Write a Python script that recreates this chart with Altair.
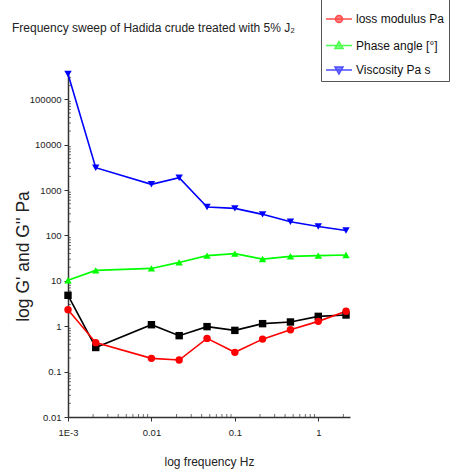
import altair as alt
import pandas as pd

# ---- data ----
freq = [0.001, 0.00215, 0.01, 0.0215, 0.0464, 0.1, 0.215, 0.464, 1.0, 2.15]
storage_modulus = [4.8, 0.34, 1.08, 0.62, 0.98, 0.81, 1.14, 1.24, 1.65, 1.77]
loss_modulus = [2.32, 0.435, 0.196, 0.18, 0.54, 0.266, 0.52, 0.84, 1.28, 2.13]
phase_angle = [10.3, 17.0, 18.8, 25.5, 35.9, 39.8, 30.2, 34.7, 35.9, 37.0]
viscosity = [360000, 3110, 1340, 1875, 423, 396, 292, 201, 158, 129]

series_names = ["storage modulus Pa", "loss modulus Pa", "Phase angle [\u00b0]", "Viscosity Pa s"]
series_colors = ["#000000", "#ff0000", "#00ff00", "#0000ff"]
series_shapes = ["square", "circle", "triangle-up", "triangle-down"]
legend_names = series_names[1:]
legend_colors = series_colors[1:]

x_tick_values = [0.001, 0.01, 0.1, 1]
x_tick_labels = ["1E-3", "0.01", "0.1", "1"]
y_tick_values = [0.01, 0.1, 1, 10, 100, 1000, 10000, 100000]
y_tick_labels = ["0.01", "0.1", "1", "10", "100", "1000", "10000", "100000"]
minor_mult = [2, 3, 4, 5, 6, 7, 8, 9]
x_minor = [m * d for d in [0.001, 0.01, 0.1, 1] for m in minor_mult if m * d < 2.4]
y_minor = [m * d for d in [0.01, 0.1, 1, 10, 100, 1000, 10000, 100000] for m in minor_mult if m * d < 4e5]

x_domain = [0.001, 2.4]
y_domain = [0.01, 4e5]

FONT = "Liberation Sans, Arial"

# legend symbols: line stub with marker in the middle
legend_paths = [
    "M-2.6,0H2.6M-0.7,0A0.7,0.7,0,1,1,0.7,0A0.7,0.7,0,1,1,-0.7,0Z",
    "M-2.6,0H2.6M0,-0.8L0.8,0.6L-0.8,0.6Z",
    "M-2.6,0H2.6M0,0.8L0.8,-0.6L-0.8,-0.6Z",
]

rows = []
for name, vals in zip(series_names, [storage_modulus, loss_modulus, phase_angle, viscosity]):
    for i, (f, v) in enumerate(zip(freq, vals)):
        rows.append({"series": name, "freq": f, "value": v, "idx": i})
df = pd.DataFrame(rows)

def expr_map(vals, labels):
    return "[" + ",".join("'" + l + "'" for l in labels) + "][indexof([" + ",".join(repr(v) for v in vals) + "], datum.value)]"

xscale = alt.Scale(type="log", domain=x_domain, nice=False)
yscale = alt.Scale(type="log", domain=y_domain, nice=False)
color_scale = alt.Scale(domain=series_names, range=series_colors)

x_enc = alt.X(
    "freq:Q", scale=xscale,
    axis=alt.Axis(
        values=x_tick_values, labelExpr=expr_map(x_tick_values, x_tick_labels),
        title="log frequency Hz", titleFont=FONT, titleFontSize=12, titleFontWeight="normal",
        titleColor="#222", titleY=48, titleBaseline="alphabetic",
        labelFont=FONT, labelFontSize=9.5, labelColor="#222", labelPadding=6,
        tickSize=4, tickColor="#333", domainColor="#333", domainWidth=1.5, tickWidth=1,
        grid=False, labelFlush=False, labelOverlap=False,
    ),
)
y_enc = alt.Y(
    "value:Q", scale=yscale,
    axis=alt.Axis(
        values=y_tick_values, labelExpr=expr_map(y_tick_values, y_tick_labels),
        title="log G' and G'' Pa", titleFont=FONT, titleFontSize=17.5, titleFontWeight="normal",
        titleColor="#222", titleAngle=270, titleX=-40, titleY=184, titleBaseline="alphabetic",
        titleAlign="center",
        labelFont=FONT, labelFontSize=9.5, labelColor="#222", labelPadding=3,
        tickSize=4, tickColor="#333", domainColor="#333", domainWidth=1.5, tickWidth=1,
        grid=False, labelFlush=False, labelOverlap=False,
    ),
)

base = alt.Chart(df)
lines = base.mark_line(strokeWidth=1.6, clip=False).encode(
    x=x_enc, y=y_enc,
    color=alt.Color("series:N", scale=color_scale, legend=None),
    detail="series:N",
    order="idx:Q",
)
points = base.mark_point(filled=True, size=55, opacity=1, clip=False).encode(
    x=alt.X("freq:Q", scale=xscale),
    y=alt.Y("value:Q", scale=yscale),
    color=alt.Color("series:N", scale=color_scale, legend=None),
    shape=alt.Shape("series:N", scale=alt.Scale(domain=series_names, range=series_shapes), legend=None),
)

xm = pd.DataFrame({"m": x_minor})
ym = pd.DataFrame({"m": y_minor})
x_minor_ticks = alt.Chart(xm).mark_tick(orient="vertical", size=3, thickness=1, color="#333", yOffset=-1.5).encode(
    x=alt.X("m:Q", scale=xscale), y=alt.Y(datum=y_domain[0], scale=yscale)
)
y_minor_ticks = alt.Chart(ym).mark_tick(orient="horizontal", size=3, thickness=1, color="#333", xOffset=1.5).encode(
    y=alt.Y("m:Q", scale=yscale), x=alt.X(datum=x_domain[0], scale=xscale)
)

legend_layer = alt.Chart(df).mark_point(filled=True).encode(
    fill=alt.Fill("series:N", scale=alt.Scale(domain=legend_names, range=legend_colors),
                  legend=alt.Legend(
                      orient="none", legendX=253, legendY=-83, padding=4,
                      strokeColor="#555", fillColor="white",
                      title="\u00a0", titleFontSize=12, titlePadding=8,
                      symbolSize=100, symbolOffset=8, labelOffset=11, symbolStrokeWidth=1.5,
                      labelFont=FONT, labelFontSize=12, labelColor="#111", labelLimit=300,
                      rowPadding=12.5,
                  )),
    stroke=alt.Stroke("series:N", scale=alt.Scale(domain=legend_names, range=legend_colors)),
    shape=alt.Shape("series:N", scale=alt.Scale(domain=legend_names, range=legend_paths)),
).transform_filter("false")

chart = alt.layer(x_minor_ticks, y_minor_ticks, lines, points, legend_layer).resolve_scale(
    shape="independent", fill="independent", stroke="independent", color="independent"
).properties(
    width=282, height=345,
    autosize=alt.AutoSizeParams(type="none"),
    padding={"left": 68, "top": 72, "right": 104, "bottom": 54},
    title=alt.TitleParams(
        text="Frequency sweep of Hadida crude treated with 5% J\u2082",
        anchor="start", frame="group", dx=-56, offset=0, dy=55, baseline="alphabetic",
        font=FONT, fontSize=12, fontWeight="normal", color="#222",
    ),
).configure_view(stroke=None)

chart.save("out.html", embed_options={"renderer": "svg", "actions": False})
